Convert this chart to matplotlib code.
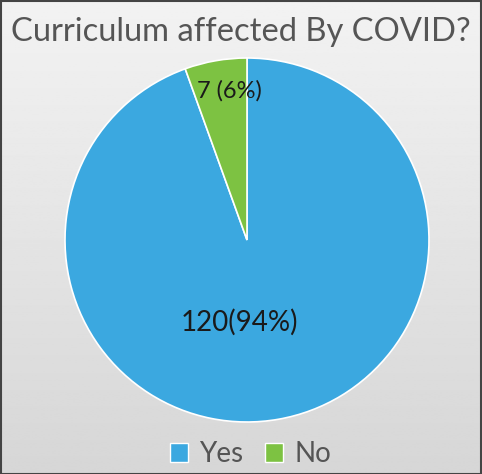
import numpy as np
import matplotlib.pyplot as plt
from matplotlib.patches import Patch, Rectangle

# data
categories = ["Yes", "No"]
counts = [120, 7]
point_labels = ["120(94%)", "7 (6%)"]
title = "Curriculum affected By COVID?"

colors = ["#3BA8E0", "#7DC242"]

W, H = 482, 474
fig = plt.figure(figsize=(W / 100, H / 100), dpi=100)

# background gradient
bg = fig.add_axes([0, 0, 1, 1], zorder=-1)
grad = np.linspace(0.95, 0.84, 256).reshape(-1, 1)
bg.imshow(grad, cmap="gray", vmin=0, vmax=1, aspect="auto", extent=[0, 1, 0, 1])
bg.add_patch(Rectangle((0.003, 0.0), 0.994, 0.997, fill=False, edgecolor="#444444",
                       lw=1.5, transform=bg.transAxes))
bg.axis("off")

# pie axes (centre ~ (247, 240), radius ~ 182 px)
cx, cy, r = 247, 240, 182
ax = fig.add_axes([(cx - r) / W, (H - cy - r) / H, 2 * r / W, 2 * r / H])
wedges, _ = ax.pie(counts, colors=colors, startangle=90, counterclock=False,
                   wedgeprops=dict(edgecolor="white", linewidth=1.2), radius=1)
ax.set_xlim(-1, 1)
ax.set_ylim(-1, 1)
ax.set_aspect("auto")
ax.axis("off")

font = "Lato"
ax.text((239 - cx) / r, (cy - 322) / r, point_labels[0], ha="center", va="center",
        fontsize=20, color="#1a1a1a", family=font)
ax.text((229 - cx) / r, (cy - 91) / r, point_labels[1], ha="center", va="center",
        fontsize=17, color="#1a1a1a", family=font)

fig.text(0.5, 1 - 32 / H, title, ha="center", va="center", fontsize=23.6,
         color="#555555", family=font)

handles = [Patch(facecolor=c, edgecolor="white", label=l) for c, l in zip(colors, categories)]
leg = fig.legend(handles=handles, loc="center", bbox_to_anchor=(0.52, 1 - 454 / H), ncol=2,
                 frameon=False, prop=dict(family=font, size=20), handlelength=0.65,
                 handleheight=0.65, handletextpad=0.4, columnspacing=0.8)
for t in leg.get_texts():
    t.set_color("#555555")

fig.savefig("out.png", dpi=100)
